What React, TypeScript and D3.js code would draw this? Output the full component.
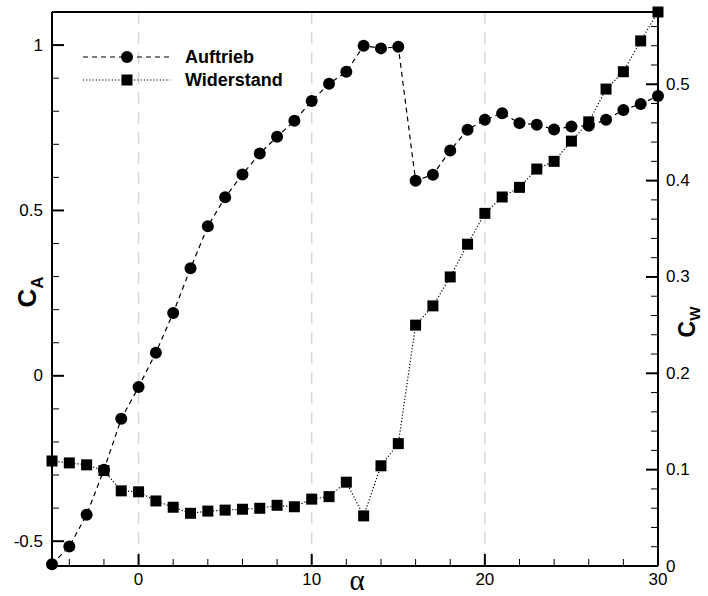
import React from "react";
import * as d3 from "d3";

const alpha: number[] = [-5,-4,-3,-2,-1,0,1,2,3,4,5,6,7,8,9,10,11,12,13,14,15,16,17,18,19,20,21,22,23,24,25,26,27,28,29,30];
const auftrieb: number[] = [-0.57,-0.516,-0.42,-0.284,-0.13,-0.034,0.07,0.19,0.325,0.452,0.54,0.609,0.672,0.723,0.771,0.831,0.883,0.919,0.998,0.99,0.995,0.59,0.608,0.681,0.744,0.774,0.794,0.764,0.759,0.745,0.754,0.756,0.774,0.804,0.822,0.846];
const widerstand: number[] = [0.109,0.107,0.105,0.099,0.078,0.077,0.0675,0.061,0.0547,0.057,0.058,0.0589,0.0599,0.063,0.0615,0.0694,0.072,0.087,0.052,0.104,0.127,0.25,0.27,0.3,0.334,0.366,0.383,0.393,0.412,0.42,0.441,0.461,0.495,0.513,0.545,0.575];

const xMajor: number[] = [0, 10, 20, 30];
const xLabels: number[] = [0, 10, 20, 30];
const xGrid: number[] = [0, 10, 20];
const yLMajor: number[] = [-0.5, 0, 0.5, 1];
const yLLabels: string[] = ["-0.5", "0", "0.5", "1"];
const yRMajor: number[] = [0, 0.1, 0.2, 0.3, 0.4, 0.5];
const yRLabels: string[] = ["0", "0.1", "0.2", "0.3", "0.4", "0.5"];

const L = 52, R = 658, T = 12, B = 566;

export default function App() {
  const x = d3.scaleLinear().domain([-5, 30]).range([L, R]);
  const yL = d3.scaleLinear().domain([-0.575, 1.1]).range([B, T]);
  const yR = d3.scaleLinear().domain([0, 0.575]).range([B, T]);

  const lineA = d3.line<number>().x((_, i) => x(alpha[i])).y((d) => yL(d));
  const lineW = d3.line<number>().x((_, i) => x(alpha[i])).y((d) => yR(d));

  const xMinor = d3.range(-4, 30, 2).filter((v) => v % 10 !== 0);
  const yLMinor = d3.range(-5, 11, 1).map((v) => v / 10).filter((v) => Math.abs((v * 2) - Math.round(v * 2)) > 1e-6);
  const yRMinor = d3.range(1, 29, 1).map((v) => v / 50).filter((v) => Math.abs(v * 10 - Math.round(v * 10)) > 1e-6);

  const font = "'Liberation Sans', Arial, sans-serif";

  return (
    <svg width={708} height={596} style={{ position: "absolute", left: 0, top: 0, background: "#fff" }} fontFamily={font}>
      <rect x={0} y={0} width={708} height={596} fill="#fff" />
      {xGrid.map((v) => (
        <line key={"g" + v} x1={x(v)} x2={x(v)} y1={T} y2={B} stroke="#d9d9d9" strokeWidth={1.5} strokeDasharray="12,8" />
      ))}
      {/* series */}
      <path d={lineA(auftrieb) || ""} fill="none" stroke="#000" strokeWidth={1.2} strokeDasharray="5,4" />
      <path d={lineW(widerstand) || ""} fill="none" stroke="#000" strokeWidth={1.2} strokeDasharray="1.2,2" />
      {auftrieb.map((d, i) => (
        <circle key={"c" + i} cx={x(alpha[i])} cy={yL(d)} r={6} fill="#000" />
      ))}
      {widerstand.map((d, i) => (
        <rect key={"s" + i} x={x(alpha[i]) - 5.5} y={yR(d) - 5.5} width={11} height={11} fill="#000" />
      ))}
      {/* frame */}
      <line x1={L} x2={R} y1={T} y2={T} stroke="#000" strokeWidth={2} />
      <line x1={L} x2={R} y1={B} y2={B} stroke="#000" strokeWidth={2} />
      <line x1={L} x2={L} y1={T} y2={B} stroke="#000" strokeWidth={2} />
      <line x1={R} x2={R} y1={T} y2={B} stroke="#000" strokeWidth={2} />
      {/* x ticks */}
      {xMajor.filter((v) => v < 30).map((v) => (
        <line key={"xm" + v} x1={x(v)} x2={x(v)} y1={B} y2={B - 12} stroke="#000" strokeWidth={2} />
      ))}
      {xMinor.map((v) => (
        <line key={"xn" + v} x1={x(v)} x2={x(v)} y1={B} y2={B - 7} stroke="#000" strokeWidth={1} />
      ))}
      {xLabels.map((v) => (
        <text key={"xl" + v} x={x(v)} y={585} textAnchor="middle" fontSize={17}>{v}</text>
      ))}
      {/* left ticks */}
      {yLMajor.map((v) => (
        <line key={"lm" + v} x1={L} x2={L + 12} y1={yL(v)} y2={yL(v)} stroke="#000" strokeWidth={2} />
      ))}
      {yLMinor.map((v) => (
        <line key={"ln" + v} x1={L} x2={L + 7} y1={yL(v)} y2={yL(v)} stroke="#000" strokeWidth={1} />
      ))}
      {yLMajor.map((v, i) => (
        <text key={"ll" + v} x={43} y={yL(v)} textAnchor="end" dominantBaseline="central" fontSize={17}>{yLLabels[i]}</text>
      ))}
      {/* right ticks */}
      {yRMajor.map((v) => (
        <line key={"rm" + v} x1={R} x2={R - 12} y1={yR(v)} y2={yR(v)} stroke="#000" strokeWidth={2} />
      ))}
      {yRMinor.map((v) => (
        <line key={"rn" + v} x1={R} x2={R - 7} y1={yR(v)} y2={yR(v)} stroke="#000" strokeWidth={1} />
      ))}
      {yRMajor.map((v, i) => (
        <text key={"rl" + v} x={666} y={yR(v)} textAnchor="start" dominantBaseline="central" fontSize={17}>{yRLabels[i]}</text>
      ))}
      {/* axis titles */}
      <text x={357} y={590} textAnchor="middle" fontSize={29} fontFamily="'Liberation Serif', serif">α</text>
      <text transform="translate(36,292) rotate(-90)" textAnchor="middle" fontSize={26} fontWeight="bold">
        C<tspan fontSize={17} dy={7}>A</tspan>
      </text>
      <text transform="translate(695,322) rotate(-90)" textAnchor="middle" fontSize={23} fontWeight="bold">
        C<tspan fontSize={15} dy={5}>W</tspan>
      </text>
      {/* legend */}
      <line x1={83} x2={170} y1={57} y2={57} stroke="#000" strokeWidth={1.2} strokeDasharray="5,4" />
      <circle cx={127} cy={57} r={6} fill="#000" />
      <text x={185} y={63} fontSize={18} fontWeight="bold">Auftrieb</text>
      <line x1={83} x2={170} y1={80} y2={80} stroke="#000" strokeWidth={1.2} strokeDasharray="1.2,2" />
      <rect x={127 - 5.5} y={80 - 5.5} width={11} height={11} fill="#000" />
      <text x={185} y={86} fontSize={18} fontWeight="bold">Widerstand</text>
    </svg>
  );
}
